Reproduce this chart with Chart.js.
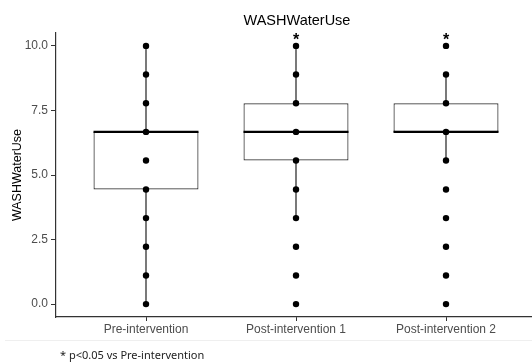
<!DOCTYPE html>
<html>
<head>
<meta charset="utf-8">
<script src="https://cdn.jsdelivr.net/npm/chart.js@4.4.1/dist/chart.umd.min.js"></script>
<style>
    body { margin: 0; background: #fff; overflow: hidden; }
    #wrap { position: relative; width: 532px; height: 362px; overflow: hidden; }
    #chart { position: absolute; left: 0; top: 0; }
    #title {
        position: absolute; left: 297px; top: 11px; transform: translateX(-50%);
        font: 14.5px "Liberation Sans", Arial, sans-serif; color: #000; line-height: 18px; white-space: nowrap;
    }
    #sep { position: absolute; left: 5px; top: 340px; width: 527px; height: 1px; background: #efefef; }
    #note {
        position: absolute; left: 60px; top: 348px;
        font: 11px "Noto Sans", sans-serif; color: #222; line-height: 14px; white-space: nowrap;
    }
</style>
</head>
<body>
<div id="wrap">
    <canvas id="chart" width="540" height="362"></canvas>
    <div id="title">WASHWaterUse</div>
    <div id="sep"></div>
    <div id="note">* p&lt;0.05 vs Pre-intervention</div>
</div>
<script>
// ===========================
// Data
// ===========================

const categories = ['Pre-intervention', 'Post-intervention 1', 'Post-intervention 2'];
const yTickValues = [0, 2.5, 5, 7.5, 10];

// observed scores per group (all points shown)
const preScores   = [0, 1.11, 2.22, 3.33, 4.44, 5.56, 6.67, 7.78, 8.89, 10];
const post1Scores = [0, 1.11, 2.22, 3.33, 4.44, 5.56, 6.67, 7.78, 8.89, 10];
const post2Scores = [0, 1.11, 2.22, 3.33, 4.44, 5.56, 6.67, 7.78, 8.89, 10];

// box plot stats
const q1Values      = [4.44, 5.56, 6.67];
const medianValues  = [6.67, 6.67, 6.67];
const q3Values      = [6.67, 7.78, 7.78];
const whiskerLow    = [0, 3.33, 5.56];
const whiskerHigh   = [10, 10, 8.89];

// significance markers
const signifMarks = ['', '*', '*'];

// ===========================
// Build datasets
// ===========================

const BOX_WIDTH = 0.7;
const INK = '#333333';
const allScores = [preScores, post1Scores, post2Scores];

const boxData = categories.map((c, i) => ({ x: i + 1, y: [q1Values[i], q3Values[i]] }));

const whiskerData = [];
const medianData = [];
const pointData = [];
categories.forEach((c, i) => {
    const x = i + 1;
    whiskerData.push({ x: x, y: whiskerHigh[i] }, { x: x, y: q3Values[i] }, { x: x, y: null });
    whiskerData.push({ x: x, y: q1Values[i] }, { x: x, y: whiskerLow[i] }, { x: x, y: null });
    medianData.push({ x: x - BOX_WIDTH / 2, y: medianValues[i] }, { x: x + BOX_WIDTH / 2, y: medianValues[i] }, { x: x, y: null });
    allScores[i].forEach(v => pointData.push({ x: x, y: v }));
});

const signifPlugin = {
    id: 'signif',
    afterDatasetsDraw(chart) {
        const { ctx, scales } = chart;
        ctx.save();
        ctx.font = 'bold 16px "Liberation Sans", Arial, sans-serif';
        ctx.fillStyle = '#000';
        ctx.textAlign = 'center';
        ctx.textBaseline = 'middle';
        signifMarks.forEach((s, i) => {
            if (!s) return;
            const top = Math.max(...allScores[i]);
            ctx.fillText(s, scales.x.getPixelForValue(i + 1), scales.y.getPixelForValue(top) - 5);
        });
        ctx.restore();
    }
};

const tickFont = { family: '"Liberation Sans", Arial, sans-serif', size: 12 };

new Chart(document.getElementById('chart'), {
    type: 'bar',
    data: {
        datasets: [
            {
                type: 'line',
                data: pointData,
                showLine: false,
                pointRadius: 3.2,
                pointBackgroundColor: '#000',
                pointBorderWidth: 0,
                order: 0
            },
            {
                type: 'line',
                data: medianData,
                borderColor: '#000',
                borderWidth: 2.2,
                pointRadius: 0,
                order: 1
            },
            {
                type: 'line',
                data: whiskerData,
                borderColor: INK,
                borderWidth: 1.3,
                pointRadius: 0,
                order: 2
            },
            {
                type: 'bar',
                data: boxData,
                backgroundColor: '#fff',
                borderColor: INK,
                borderWidth: 1.2,
                borderSkipped: false,
                categoryPercentage: 1,
                barPercentage: BOX_WIDTH,
                order: 3
            }
        ]
    },
    options: {
        responsive: false,
        animation: false,
        layout: { padding: { top: 33, right: 2, bottom: 23, left: 0 } },
        plugins: {
            legend: { display: false },
            tooltip: { enabled: false }
        },
        scales: {
            x: {
                type: 'linear',
                min: 0.4,
                max: 3.6,
                offset: false,
                afterBuildTicks: scale => { scale.ticks = categories.map((c, i) => ({ value: i + 1 })); },
                afterFit: scale => { scale.height = 22; },
                ticks: {
                    callback: v => categories[v - 1],
                    color: '#4d4d4d',
                    font: tickFont,
                    padding: 1,
                    maxRotation: 0
                },
                grid: { drawOnChartArea: false, drawTicks: true, tickLength: 4, tickColor: INK, offset: false },
                border: { color: INK, width: 1.2 }
            },
            y: {
                min: -0.5,
                max: 10.5,
                afterBuildTicks: scale => { scale.ticks = yTickValues.map(v => ({ value: v })); },
                afterFit: scale => { scale.width = 56; },
                ticks: {
                    callback: v => v.toFixed(1),
                    color: '#4d4d4d',
                    font: tickFont,
                    padding: 3
                },
                grid: { drawOnChartArea: false, drawTicks: true, tickLength: 5, tickColor: INK },
                border: { color: INK, width: 1.2 },
                title: {
                    display: true,
                    text: 'WASHWaterUse',
                    color: '#000',
                    font: { family: '"Liberation Sans", Arial, sans-serif', size: 12.5 },
                    padding: { top: 10, bottom: 0 }
                }
            }
        }
    },
    plugins: [signifPlugin]
});
</script>
</body>
</html>
